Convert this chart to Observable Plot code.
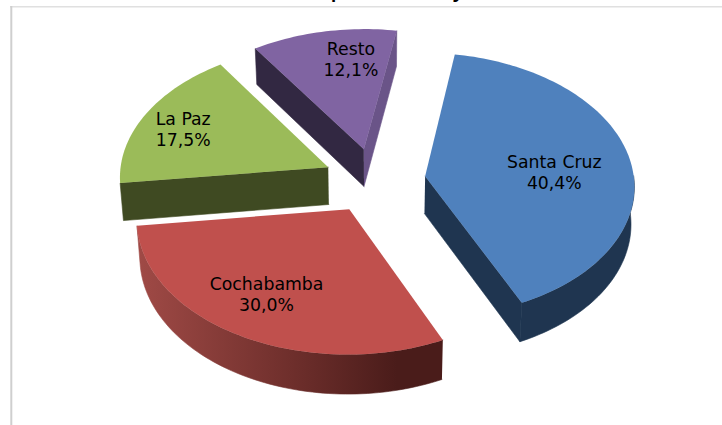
<!DOCTYPE html>
<html><head><meta charset="utf-8">
<style>html,body{margin:0;padding:0;background:#fff}svg{display:block}</style>
<script src="https://cdn.jsdelivr.net/npm/d3@7"></script>
<script src="https://cdn.jsdelivr.net/npm/@observablehq/plot@0.6"></script>
</head><body><div id="chart"></div>
<script>
const regions = ["Santa Cruz", "Cochabamba", "La Paz", "Resto"];
const shares = [40.4, 30.0, 17.5, 12.1];
const shareLabels = ["40,4%", "30,0%", "17,5%", "12,1%"];
const topColors = ["#4f81bd", "#c0504d", "#9bbb59", "#8064a2"];
const faceColors = ["#1f3550", "#4a1c1a", "#3f4a22", "#322842"];
const labelRadius = [0.622, 0.704, 0.777, 0.742];
const labelAlong = [0.533, 0.525, 0.472, 0.658];
const title = "(en porcentaje)";

const startDeg = 9.6, explode = 0.245, persp = 0.065;
const total = d3.sum(shares);
let acc = startDeg * Math.PI / 180;
const slices = shares.map((v, i) => {
  const a0 = acc; acc += v / total * 2 * Math.PI;
  const a1 = acc, m = (a0 + a1) / 2;
  return {i, a0, a1, ox: explode * Math.sin(m), oy: explode * Math.cos(m)};
});
// world point on the pie plane -> perspective chart units; d = drop (0 top, 1 bottom)
function pt(s, r, a, d = 0) {
  const X = s.ox + r * Math.sin(a), Y = s.oy + r * Math.cos(a);
  const w = 1 + persp * Y;
  const x = X / w * (1 - 0.013 * d), y = Y / w;
  return {x, y: y - d * (0.284 - 0.012 * y)};
}
function arc(s, a0, a1, d) {
  const n = Math.max(2, Math.ceil(Math.abs(a1 - a0) * 40));
  return d3.range(n + 1).map(k => pt(s, 1, a0 + (a1 - a0) * k / n, d));
}
const topFace = s => [pt(s, 0, 0), ...arc(s, s.a0, s.a1, 0), pt(s, 0, 0)];
const cut = (s, a) => [pt(s, 0, 0), pt(s, 1, a), pt(s, 1, a, 1), pt(s, 0, 0, 1)];
const wall = (s, a0, a1) => [...arc(s, a0, a1, 0), ...arc(s, a1, a0, 1)];
const poly = (pts, fill) => Plot.line(pts, {x: "x", y: "y", fill, stroke: null, curve: "linear"});
const side = (pts, fill) => Plot.line(pts, {x: "x", y: "y", fill, stroke: fill, strokeWidth: 0.6, curve: "linear"});
const [sc, co, lp, re] = slices;

const defs = () => {
  const svg = d3.create("svg:defs");
  const g = svg.append("linearGradient").attr("id", "redWall");
  g.append("stop").attr("offset", "0%").attr("stop-color", "#a04a46");
  g.append("stop").attr("offset", "50%").attr("stop-color", "#6f2f2c");
  g.append("stop").attr("offset", "85%").attr("stop-color", "#4a1c1a");
  g.append("stop").attr("offset", "100%").attr("stop-color", "#4a1c1a");
  return svg.node();
};

const labels = slices.map((s, i) => ({
  i, p: pt(s, labelRadius[i], s.a0 + (s.a1 - s.a0) * labelAlong[i])
}));

const x0 = -374 / 209, x1 = 348 / 209, yTop = 180 / 132, yBot = -245 / 132;
const plot = Plot.plot({
  width: 722, height: 425,
  margin: 0,
  x: {domain: [x0, x1], range: [0, 722], axis: null},
  y: {domain: [yBot, yTop], range: [425, 0], axis: null},
  style: {background: "#fff", fontFamily: "'DejaVu Sans', Verdana, sans-serif"},
  marks: [
    defs,
    Plot.text([title], {x: 8 / 209, y: yTop, text: d => d, lineAnchor: "bottom", dy: -5, fontSize: 28, fill: "#000"}),
    // frame
    Plot.ruleY([yTop - 6.3 / 132], {stroke: "#e0e0e0", x1: x0 + 10 / 209, x2: x1, strokeWidth: 1.5}),
    Plot.ruleX([x0 + 10.8 / 209], {stroke: "#cfcfcf", y1: yTop - 6 / 132, y2: yBot, strokeWidth: 2}),
    // back-most pieces first
    side(cut(re, re.a0), faceColors[3]),
    side(cut(re, re.a1), "#6a5488"),
    poly(topFace(re), topColors[3]),
    side(cut(lp, lp.a0), faceColors[2]),
    poly(topFace(lp), topColors[2]),
    side(cut(sc, sc.a1), faceColors[0]),
    side(wall(sc, sc.a0 + 1.4, sc.a1), faceColors[0]),
    poly(topFace(sc), topColors[0]),
    side(wall(co, co.a0, co.a1), "url(#redWall)"),
    poly(topFace(co), topColors[1]),
    Plot.text(labels, {
      x: d => d.p.x, y: d => d.p.y,
      text: d => regions[d.i] + "\n" + shareLabels[d.i],
      fontSize: 17.3, fill: "#000", lineHeight: 1.22
    })
  ]
});
document.getElementById("chart").append(plot);
</script></body></html>
